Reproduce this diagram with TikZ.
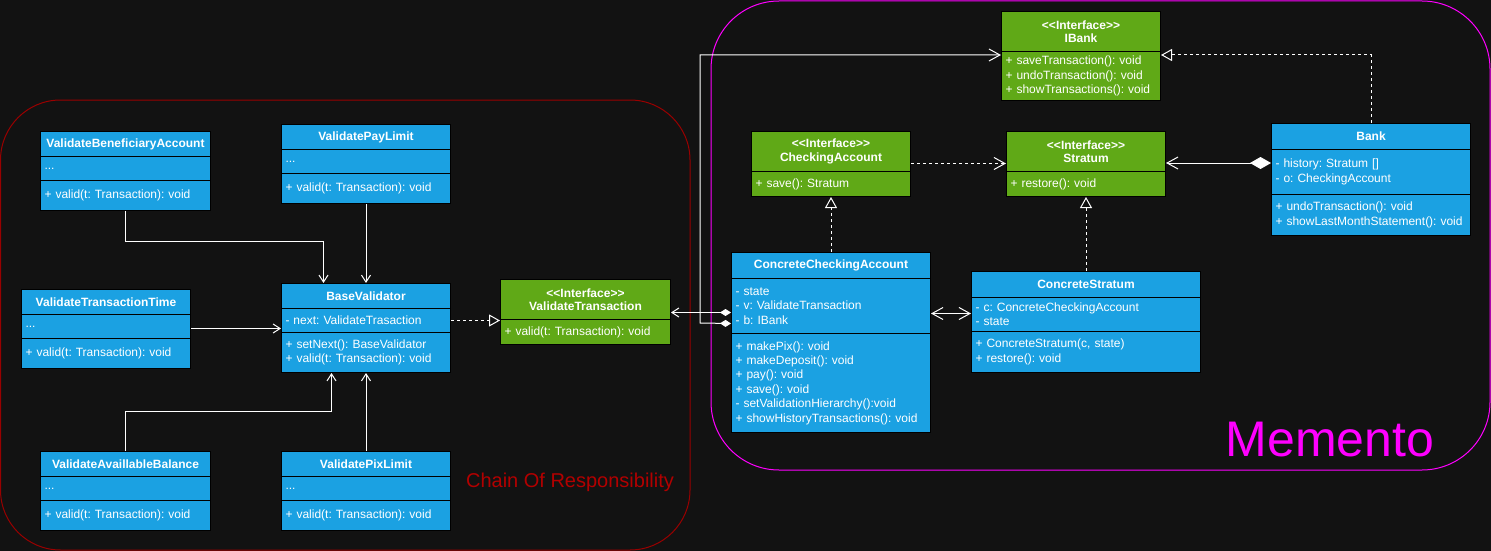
\documentclass[tikz,border=0pt]{standalone}
\usepackage{fontspec}
\setmainfont{Liberation Sans}
\usetikzlibrary{arrows.meta,calc}
\frenchspacing
\definecolor{bg}{HTML}{121212}
\definecolor{ublue}{HTML}{1BA1E2}
\definecolor{ugreen}{HTML}{60A917}
\definecolor{cred}{HTML}{990000}
\definecolor{credtext}{HTML}{B20000}
\definecolor{mag}{HTML}{FF00FF}
\tikzset{
  usect/.style={draw=black, line width=1pt, anchor=north west, inner xsep=4pt, inner ysep=0pt,
    text=white, font=\fontsize{12}{14.4}\selectfont\frenchspacing},
  ubody/.style={usect, align=left},
  uhead/.style={usect, align=center, font=\fontsize{12}{13.5}\selectfont\bfseries},
  conn/.style={draw=white, line width=1pt},
  dash3/.style={dash pattern=on 3pt off 3pt},
  assoc/.style={conn, -{Straight Barb[length=7pt,width=9pt,line width=1pt]}},
  realize/.style={conn, dash3, -{Triangle[open,length=11pt,width=12pt,line width=1pt,fill=bg]}},
  depend/.style={conn, dash3, -{Straight Barb[length=11pt,width=12pt,line width=1pt]}},
  container/.style={line width=1pt},
}
\newcommand\usec[8]{%
  \pgfmathsetmacro\uw{#4}\pgfmathsetmacro\utw{#4-8}%
  \node[#8, fill=#6, minimum width=\uw pt, minimum height=#5pt, text width=\utw pt] (#1) at (#2,#3) {#7};}
\newcommand\iface{<\kern0pt<Interface>\kern0pt>}
\begin{document}
\begin{tikzpicture}[x=1pt,y=-1pt]
\useasboundingbox (0,0) rectangle (1491,551);
\fill[bg] (0,0) rectangle (1491,551);
% containers
\draw[container, cred, rounded corners=60pt] (0.5,100) rectangle (690,550);
\draw[container, mag, rounded corners=68pt] (711,1) rectangle (1490,470);
\node[text=credtext, font=\fontsize{20}{22}\selectfont] (corlabel) at (570,482) {Chain Of Responsibility};
\node[text=mag, font=\fontsize{50}{55}\selectfont] (memlabel) at (1330,440) {Memento};
% ---- Chain of responsibility classes
\usec{vba-h}{40}{131}{170}{25}{ublue}{ValidateBeneficiaryAccount}{uhead}
\usec{vba-a}{40}{156}{170}{24}{ublue}{...}{ubody}
\usec{vba-m}{40}{180}{170}{30}{ublue}{+ valid(t: Transaction): void}{ubody}

\usec{vpl-h}{281}{124}{169}{25}{ublue}{ValidatePayLimit}{uhead}
\usec{vpl-a}{281}{149}{169}{24}{ublue}{...}{ubody}
\usec{vpl-m}{281}{173}{169}{30}{ublue}{+ valid(t: Transaction): void}{ubody}

\usec{bv-h}{281}{283}{169}{25}{ublue}{BaseValidator}{uhead}
\usec{bv-a}{281}{308}{169}{24}{ublue}{- next: ValidateTrasaction}{ubody}
\usec{bv-m}{281}{332}{169}{40}{ublue}{+ setNext(): BaseValidator\\+ valid(t: Transaction): void}{ubody}

\usec{vtt-h}{21}{289}{169}{25}{ublue}{ValidateTransactionTime}{uhead}
\usec{vtt-a}{21}{314}{169}{24}{ublue}{...}{ubody}
\usec{vtt-m}{21}{338}{169}{30}{ublue}{+ valid(t: Transaction): void}{ubody}

\usec{vab-h}{40}{451}{170}{25}{ublue}{ValidateAvaillableBalance}{uhead}
\usec{vab-a}{40}{476}{170}{24}{ublue}{...}{ubody}
\usec{vab-m}{40}{500}{170}{30}{ublue}{+ valid(t: Transaction): void}{ubody}

\usec{vpx-h}{281}{451}{169}{25}{ublue}{ValidatePixLimit}{uhead}
\usec{vpx-a}{281}{476}{169}{24}{ublue}{...}{ubody}
\usec{vpx-m}{281}{500}{169}{30}{ublue}{+ valid(t: Transaction): void}{ubody}

\usec{vt-h}{500}{279}{170}{40}{ugreen}{\iface\\ValidateTransaction}{uhead}
\usec{vt-m}{500}{319}{170}{25}{ugreen}{+ valid(t: Transaction): void}{ubody}
% ---- Memento classes
\usec{ib-h}{1001}{11}{159}{40}{ugreen}{\iface\\IBank}{uhead}
\usec{ib-m}{1001}{51}{159}{49}{ugreen}{+ saveTransaction(): void\\+ undoTransaction(): void\\+ showTransactions(): void}{ubody}

\usec{ca-h}{751}{131}{159}{40}{ugreen}{\iface\\CheckingAccount}{uhead}
\usec{ca-m}{751}{171}{159}{25}{ugreen}{+ save(): Stratum}{ubody}

\usec{st-h}{1006}{131}{159}{40}{ugreen}{\iface\\Stratum}{uhead}
\usec{st-m}{1006}{171}{159}{25}{ugreen}{+ restore(): void}{ubody}

\usec{bk-h}{1271}{123}{199}{26}{ublue}{Bank}{uhead}
\usec{bk-a}{1271}{149}{199}{45}{ublue}{- history: Stratum []\\- o: CheckingAccount}{ubody}
\usec{bk-m}{1271}{194}{199}{41}{ublue}{+ undoTransaction(): void\\+ showLastMonthStatement(): void}{ubody}

\usec{cca-h}{731}{252}{199}{26}{ublue}{ConcreteCheckingAccount}{uhead}
\usec{cca-a}{731}{278}{199}{55}{ublue}{- state\\- v: ValidateTransaction\\- b: IBank}{ubody}
\usec{cca-m}{731}{333}{199}{99}{ublue}{+ makePix(): void\\+ makeDeposit(): void\\+ pay(): void\\+ save(): void\\- setValidationHierarchy():void\\+ showHistoryTransactions(): void}{ubody}

\usec{cs-h}{971}{271}{229}{26}{ublue}{ConcreteStratum}{uhead}
\usec{cs-a}{971}{297}{229}{34}{ublue}{- c: ConcreteCheckingAccount\\- state}{ubody}
\usec{cs-m}{971}{331}{229}{41}{ublue}{+ ConcreteStratum(c, state)\\+ restore(): void}{ubody}
% ---- connectors: chain of responsibility
\draw[assoc] (vba-m.south) -- ++(0,30) -| ([xshift=-42.5pt]bv-h.north);
\draw[assoc] (vpl-m.south) -- (bv-h.north);
\draw[assoc] ([yshift=-2pt]vtt-a.east) -- ([yshift=-2pt]vtt-a.east -| bv-a.west);
\draw[assoc] (vab-h.north) -- ++(0,-40) -| ([xshift=-34.5pt]bv-m.south);
\draw[assoc] (vpx-h.north) -- (bv-m.south);
\draw[realize] (bv-a.east) -- (bv-a.east -| vt-h.west);
% ---- connectors: memento
\draw[conn, {Diamond[length=11pt,width=7pt,fill=white]}-{Straight Barb[length=7pt,width=9pt,line width=1pt]}]
  ([yshift=-6.5pt]cca-a.west) -- ([yshift=-6.5pt]cca-a.west -| vt-h.east);
\coordinate (bend) at (700,323);
\draw[conn, {Diamond[length=11pt,width=7pt,fill=white]}-{Straight Barb[length=11pt,width=12pt,line width=1pt]}]
  ([yshift=-17.5pt]cca-a.west) -- (bend) |- ([yshift=-4pt]ib-m.north west);
\draw[realize] (bk-h.north) |- ([yshift=-4pt]ib-m.north east);
\draw[depend] ([yshift=-12pt]ca-h.east) -- ([yshift=-12pt]ca-h.east -| st-h.west);
\draw[conn, {Diamond[length=21pt,width=12pt,fill=white]}-{Straight Barb[length=11pt,width=12pt,line width=1pt]}]
  ([yshift=-14pt]bk-a.north west) -- ([yshift=-14pt]bk-a.north west -| st-h.east);
\draw[realize] (cca-h.north) -- (ca-m.south);
\draw[realize] (cs-h.north) -- (st-m.south);
\draw[conn, {Straight Barb[length=11pt,width=12pt,line width=1pt]}-{Straight Barb[length=11pt,width=12pt,line width=1pt]}]
  ([yshift=-7.5pt]cca-a.east) -- ([yshift=-7.5pt]cca-a.east -| cs-a.west);
\end{tikzpicture}
\end{document}
